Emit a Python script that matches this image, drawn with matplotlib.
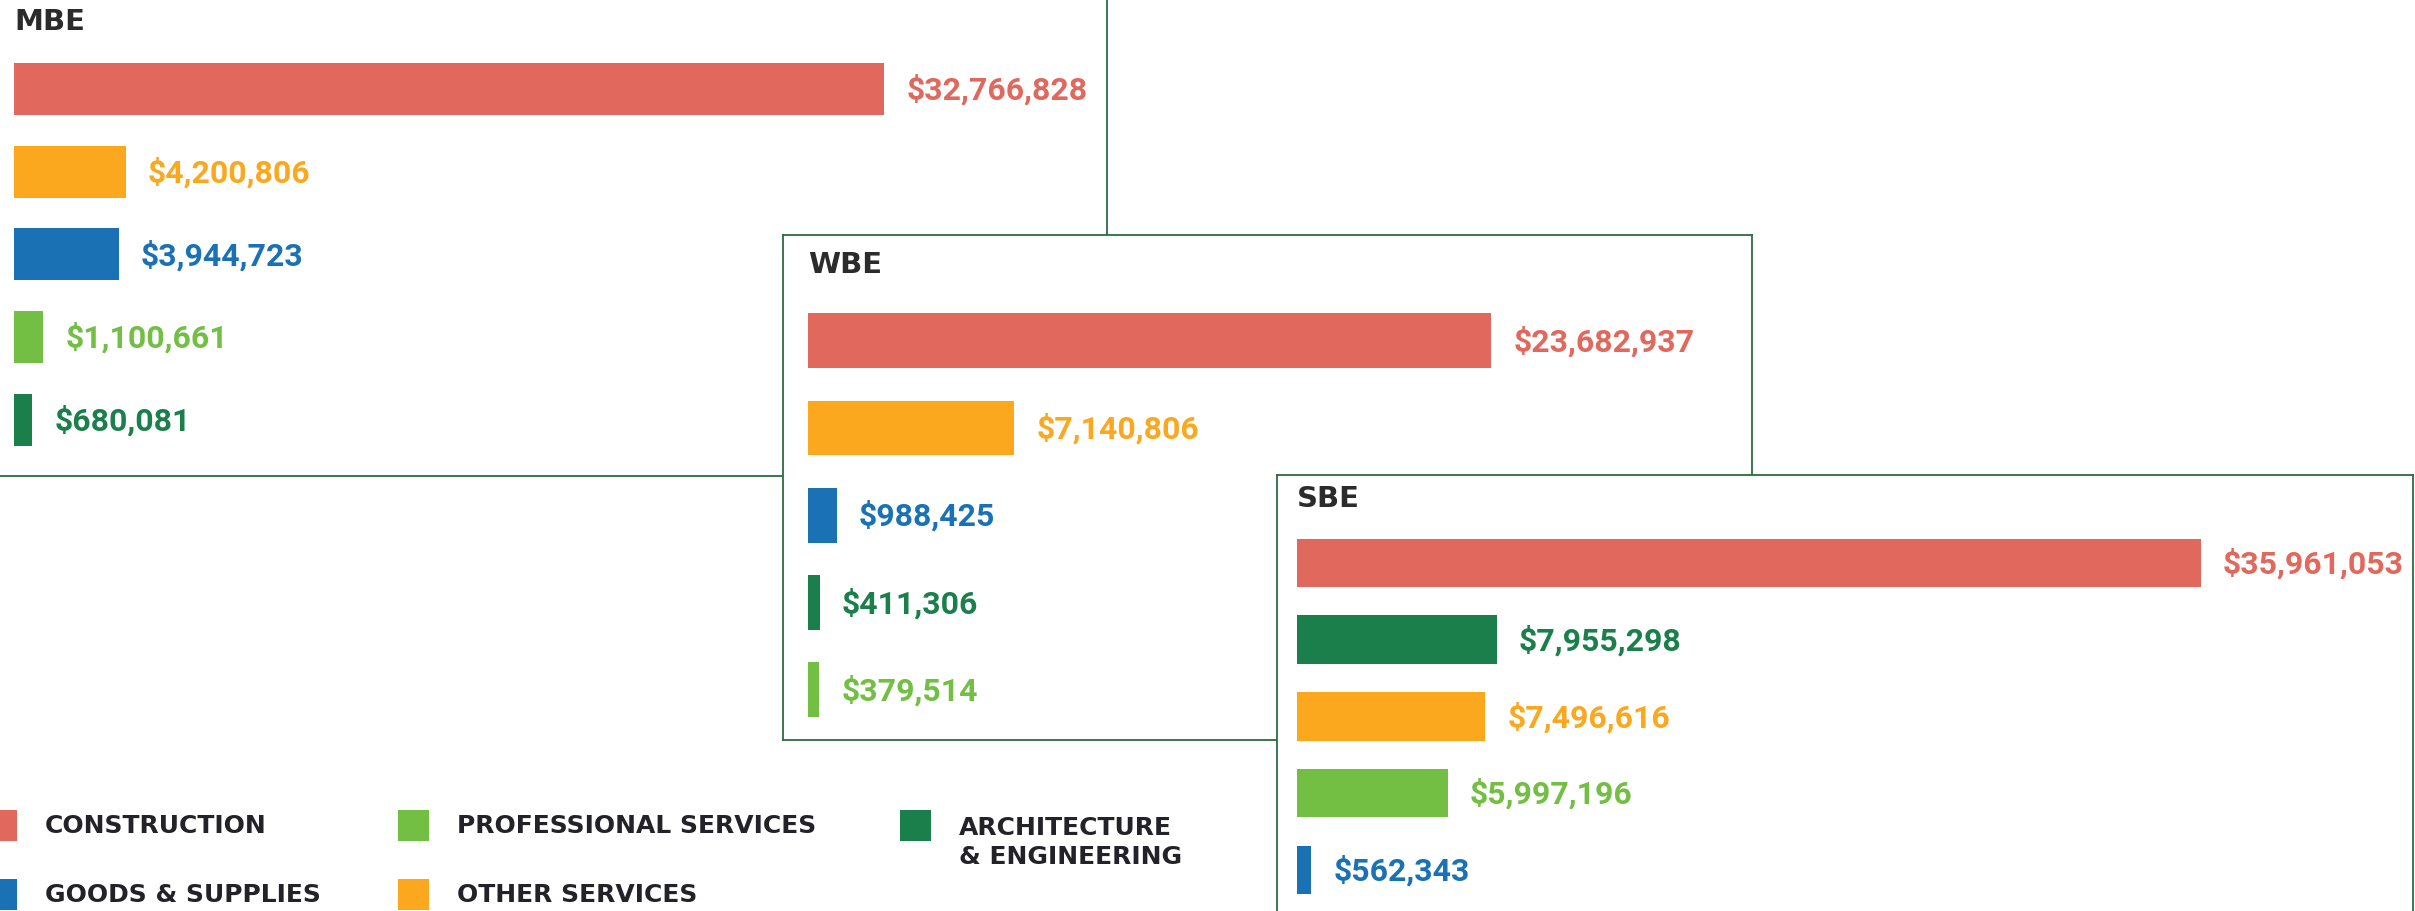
import matplotlib.pyplot as plt
import numpy as np
from matplotlib.patches import Rectangle

# 数据
mbe_cats = ["Construction", "Other Services", "Goods & Supplies",
            "Professional Services", "Architecture & Engineering"]
mbe_vals = [32766828, 4200806, 3944723, 1100661, 680081]

wbe_cats = ["Construction", "Other Services", "Goods & Supplies",
            "Architecture & Engineering", "Professional Services"]
wbe_vals = [23682937, 7140806, 988425, 411306, 379514]

sbe_cats = ["Construction", "Architecture & Engineering", "Other Services",
            "Professional Services", "Goods & Supplies"]
sbe_vals = [35961053, 7955298, 7496616, 5997196, 562343]

legend_labels = ["CONSTRUCTION", "GOODS & SUPPLIES", "PROFESSIONAL SERVICES",
                 "OTHER SERVICES", "ARCHITECTURE\n& ENGINEERING"]
legend_cats = ["Construction", "Goods & Supplies", "Professional Services",
               "Other Services", "Architecture & Engineering"]

palette = {
    "Construction": "#E0685D",
    "Other Services": "#FBA81F",
    "Goods & Supplies": "#1A72B5",
    "Professional Services": "#72BF44",
    "Architecture & Engineering": "#1B7F4C",
}
border = "#2C6B40"

W, H = 2415, 912
fig = plt.figure(figsize=(W / 100, H / 100), dpi=100)
fig.patch.set_facecolor("white")


def panel(title, cats, vals, box, bar_x0, bar_len, row0, pitch, title_y):
    # box = (left, top, right, bottom) in pixels
    l, t, r, b = box
    ax = fig.add_axes([l / W, 1 - b / H, (r - l) / W, (b - t) / H])
    ax.set_facecolor("white")
    s = bar_len / max(vals)
    y = np.arange(len(vals))
    cols = [palette[c] for c in cats]
    ax.barh(y, vals, height=0.63, color=cols)
    ax.set_xlim((l - bar_x0) / s, (r - bar_x0) / s)
    ax.set_ylim((b - row0) / pitch, (t - row0) / pitch)
    for yi, v, c in zip(y, vals, cols):
        ax.annotate(f"${v:,}", (v, yi), xytext=(16, 0), textcoords="offset points",
                    va="center", ha="left", color=c, fontsize=23,
                    fontweight="bold", family="Roboto")
    ax.text(0, (title_y - row0) / pitch, title, va="center", ha="left",
            fontsize=21, fontweight="bold", color="#2b2b2b", family="DejaVu Sans")
    ax.set_xticks([])
    ax.set_yticks([])
    for sp in ax.spines.values():
        sp.set_color(border)
        sp.set_linewidth(1.3)
    return ax


panel("MBE", mbe_cats, mbe_vals, (-2, -2, 1107, 477), 14, 870, 90, 82.7, 22.5)
panel("WBE", wbe_cats, wbe_vals, (783, 236, 1752, 741), 808, 683, 341.7, 87.3, 265)
panel("SBE", sbe_cats, sbe_vals, (1277, 475.7, 2413, 930), 1297, 903.6, 563.8, 76.8, 499)

# 图例
sq = 30.7
col_x = [-14, 398, 900]
row_y = [811, 880]
pos = [(0, 0), (0, 1), (1, 0), (1, 1), (2, 0)]
for (ci, ri), lab, cat in zip(pos, legend_labels, legend_cats):
    x0, y0 = col_x[ci], row_y[ri]
    fig.add_artist(Rectangle((x0 / W, 1 - (y0 + sq) / H), sq / W, sq / H,
                             transform=fig.transFigure, color=palette[cat], lw=0))
    yc = y0 + sq / 2 if "\n" not in lab else y0 + sq / 2 + 16
    fig.text((x0 + sq + 28) / W, 1 - yc / H, lab, va="center", ha="left",
             fontsize=18, fontweight="bold", color="#222228", family="DejaVu Sans",
             linespacing=1.25)

plt.savefig("out.png", dpi=100)
